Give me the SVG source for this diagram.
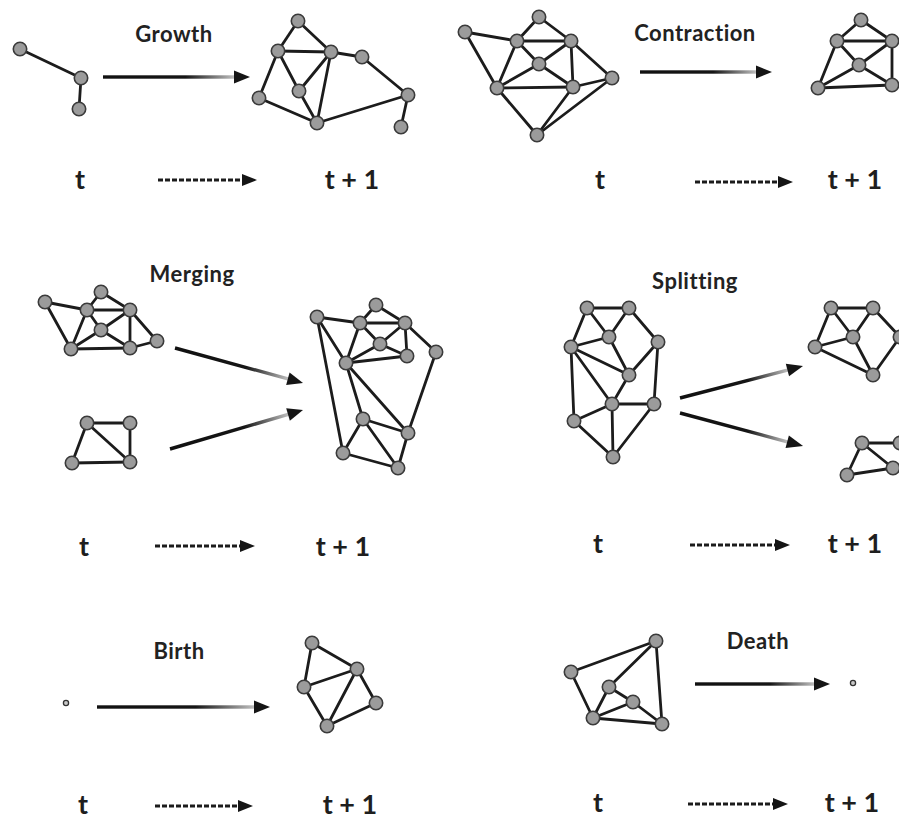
<svg xmlns="http://www.w3.org/2000/svg" width="899" height="819" viewBox="0 0 899 819">
<style>
.e{stroke:#1c1c1c;stroke-width:2.8;stroke-linecap:round}
.n{fill:#9b9b9b;stroke:#3a3a3a;stroke-width:1.6}
.dot{fill:#c8c8c8;stroke:#333;stroke-width:1.3}
.ttl{font-family:Lato,"Open Sans","Liberation Sans",sans-serif;font-weight:700;font-size:22px;letter-spacing:0.5px;fill:#222;text-anchor:middle}
.tl{font-family:Lato,"Open Sans","Liberation Sans",sans-serif;font-weight:700;font-size:27px;fill:#1e1e1e;text-anchor:middle}
.dash{stroke:#1c1c1c;stroke-width:3;stroke-dasharray:5 2}
.head{fill:#151515}
.shaft{fill:url(#fade)}
</style>
<defs>
<linearGradient id="fade" x1="0" y1="0" x2="1" y2="0">
<stop offset="0" stop-color="#111"/>
<stop offset="0.62" stop-color="#151515"/>
<stop offset="1" stop-color="#c4c4c4"/>
</linearGradient>
</defs>
<rect width="899" height="819" fill="#fff"/>

<!-- titles -->
<g id="titles">
<text class="ttl" x="174" y="42">Growth</text>
<text class="ttl" x="695" y="41">Contraction</text>
<text class="ttl" x="192" y="282">Merging</text>
<text class="ttl" x="695" y="289">Splitting</text>
<text class="ttl" x="179" y="659">Birth</text>
<text class="ttl" x="758" y="649">Death</text>
</g>

<!-- time labels -->
<g id="time-labels">
<text class="tl" x="80" y="189">t</text><text class="tl" x="352" y="189">t + 1</text>
<text class="tl" x="600" y="189">t</text><text class="tl" x="855" y="189">t + 1</text>
<text class="tl" x="84" y="556">t</text><text class="tl" x="343" y="556">t + 1</text>
<text class="tl" x="598" y="553">t</text><text class="tl" x="855" y="553">t + 1</text>
<text class="tl" x="83" y="814">t</text><text class="tl" x="350" y="814">t + 1</text>
<text class="tl" x="598" y="812">t</text><text class="tl" x="852" y="812">t + 1</text>
</g>

<!-- connectors -->
<g id="connectors">
<!-- dashed time arrows -->
<g id="time-arrows">
<line class="dash" x1="158" y1="180" x2="243" y2="180"/><polygon class="head" points="257,180 242,174 242,186"/>
<line class="dash" x1="695" y1="182" x2="779" y2="182"/><polygon class="head" points="793,182 778,176 778,188"/>
<line class="dash" x1="155" y1="546" x2="241" y2="546"/><polygon class="head" points="255,546 240,540 240,552"/>
<line class="dash" x1="690" y1="545" x2="776" y2="545"/><polygon class="head" points="790,545 775,539 775,551"/>
<line class="dash" x1="155" y1="806" x2="239" y2="806"/><polygon class="head" points="253,806 238,800 238,812"/>
<line class="dash" x1="688" y1="804" x2="774" y2="804"/><polygon class="head" points="788,804 773,798 773,810"/>
</g>
<!-- transition arrows -->
<g id="transition-arrows">
<g transform="translate(103,77)"><rect class="shaft" x="0" y="-1.7" width="133" height="3.4"/><polygon class="head" points="147,0 131,-6.5 131,6.5"/></g>
<g transform="translate(640,72)"><rect class="shaft" x="0" y="-1.7" width="118" height="3.4"/><polygon class="head" points="132,0 116,-6.5 116,6.5"/></g>
<g transform="translate(175,348) rotate(15.29)"><rect class="shaft" x="0" y="-1.7" width="119" height="3.4"/><polygon class="head" points="132.7,0 117,-6.5 117,6.5"/></g>
<g transform="translate(170,449) rotate(-16.34)"><rect class="shaft" x="0" y="-1.7" width="125" height="3.4"/><polygon class="head" points="138.6,0 123,-6.5 123,6.5"/></g>
<g transform="translate(680,398) rotate(-14.58)"><rect class="shaft" x="0" y="-1.7" width="113" height="3.4"/><polygon class="head" points="127.1,0 111,-6.5 111,6.5"/></g>
<g transform="translate(680,413) rotate(15.02)"><rect class="shaft" x="0" y="-1.7" width="113" height="3.4"/><polygon class="head" points="127.4,0 111,-6.5 111,6.5"/></g>
<g transform="translate(97,707)"><rect class="shaft" x="0" y="-1.7" width="159" height="3.4"/><polygon class="head" points="173,0 157,-6.5 157,6.5"/></g>
<g transform="translate(695,684)"><rect class="shaft" x="0" y="-1.7" width="121" height="3.4"/><polygon class="head" points="135,0 119,-6.5 119,6.5"/></g>
</g>
<!-- graph edges -->
<g id="edges-growth">
<line class="e" x1="20" y1="49" x2="81" y2="78"/><line class="e" x1="81" y1="78" x2="79" y2="109"/>
<line class="e" x1="298" y1="21" x2="278" y2="51"/><line class="e" x1="298" y1="21" x2="331" y2="52"/>
<line class="e" x1="278" y1="51" x2="331" y2="52"/><line class="e" x1="331" y1="52" x2="362" y2="57"/>
<line class="e" x1="362" y1="57" x2="408" y2="95"/><line class="e" x1="408" y1="95" x2="401" y2="127"/>
<line class="e" x1="408" y1="95" x2="317" y2="123"/><line class="e" x1="317" y1="123" x2="259" y2="98"/>
<line class="e" x1="259" y1="98" x2="278" y2="51"/><line class="e" x1="278" y1="51" x2="299" y2="91"/>
<line class="e" x1="299" y1="91" x2="317" y2="123"/><line class="e" x1="299" y1="91" x2="331" y2="52"/>
<line class="e" x1="331" y1="52" x2="317" y2="123"/>
</g>
<g id="edges-contraction">
<line class="e" x1="465" y1="32" x2="517" y2="41"/><line class="e" x1="465" y1="32" x2="497" y2="88"/>
<line class="e" x1="539" y1="17" x2="517" y2="41"/><line class="e" x1="539" y1="17" x2="571" y2="41"/>
<line class="e" x1="517" y1="41" x2="571" y2="41"/><line class="e" x1="517" y1="41" x2="539" y2="64"/>
<line class="e" x1="571" y1="41" x2="539" y2="64"/><line class="e" x1="517" y1="41" x2="497" y2="88"/>
<line class="e" x1="571" y1="41" x2="573" y2="87"/><line class="e" x1="571" y1="41" x2="612" y2="78"/>
<line class="e" x1="539" y1="64" x2="497" y2="88"/><line class="e" x1="539" y1="64" x2="573" y2="87"/>
<line class="e" x1="497" y1="88" x2="573" y2="87"/><line class="e" x1="573" y1="87" x2="612" y2="78"/>
<line class="e" x1="497" y1="88" x2="537" y2="135"/><line class="e" x1="573" y1="87" x2="537" y2="135"/>
<line class="e" x1="537" y1="135" x2="612" y2="78"/>
<line class="e" x1="861" y1="20" x2="837" y2="41"/><line class="e" x1="861" y1="20" x2="892" y2="41"/>
<line class="e" x1="837" y1="41" x2="892" y2="41"/><line class="e" x1="837" y1="41" x2="859" y2="65"/>
<line class="e" x1="892" y1="41" x2="859" y2="65"/><line class="e" x1="837" y1="41" x2="818" y2="88"/>
<line class="e" x1="818" y1="88" x2="859" y2="65"/><line class="e" x1="859" y1="65" x2="892" y2="85"/>
<line class="e" x1="892" y1="41" x2="892" y2="85"/><line class="e" x1="818" y1="88" x2="892" y2="85"/>
</g>
<g id="edges-merging">
<line class="e" x1="45" y1="302" x2="87" y2="310"/><line class="e" x1="45" y1="302" x2="71" y2="349"/>
<line class="e" x1="101" y1="292" x2="87" y2="310"/><line class="e" x1="101" y1="292" x2="130" y2="310"/>
<line class="e" x1="87" y1="310" x2="130" y2="310"/><line class="e" x1="87" y1="310" x2="71" y2="349"/>
<line class="e" x1="87" y1="310" x2="101" y2="330"/><line class="e" x1="101" y1="330" x2="130" y2="348"/>
<line class="e" x1="130" y1="310" x2="101" y2="330"/><line class="e" x1="101" y1="330" x2="71" y2="349"/>
<line class="e" x1="130" y1="310" x2="130" y2="348"/><line class="e" x1="130" y1="310" x2="157" y2="341"/>
<line class="e" x1="71" y1="349" x2="130" y2="348"/><line class="e" x1="130" y1="348" x2="157" y2="341"/>
<line class="e" x1="87" y1="423" x2="130" y2="423"/><line class="e" x1="87" y1="423" x2="72" y2="463"/>
<line class="e" x1="87" y1="423" x2="130" y2="462"/><line class="e" x1="130" y1="423" x2="130" y2="462"/>
<line class="e" x1="72" y1="463" x2="130" y2="462"/>
<line class="e" x1="317" y1="317" x2="360" y2="323"/><line class="e" x1="317" y1="317" x2="346" y2="363"/>
<line class="e" x1="317" y1="317" x2="343" y2="453"/><line class="e" x1="376" y1="305" x2="360" y2="323"/>
<line class="e" x1="376" y1="305" x2="405" y2="323"/><line class="e" x1="360" y1="323" x2="405" y2="323"/>
<line class="e" x1="360" y1="323" x2="380" y2="344"/><line class="e" x1="380" y1="344" x2="405" y2="323"/>
<line class="e" x1="380" y1="344" x2="407" y2="356"/><line class="e" x1="405" y1="323" x2="407" y2="356"/>
<line class="e" x1="405" y1="323" x2="436" y2="352"/><line class="e" x1="360" y1="323" x2="346" y2="363"/>
<line class="e" x1="380" y1="344" x2="346" y2="363"/><line class="e" x1="346" y1="363" x2="407" y2="356"/>
<line class="e" x1="346" y1="363" x2="408" y2="433"/><line class="e" x1="346" y1="363" x2="363" y2="419"/>
<line class="e" x1="363" y1="419" x2="343" y2="453"/><line class="e" x1="363" y1="419" x2="398" y2="468"/>
<line class="e" x1="363" y1="419" x2="408" y2="433"/><line class="e" x1="343" y1="453" x2="398" y2="468"/>
<line class="e" x1="408" y1="433" x2="398" y2="468"/><line class="e" x1="436" y1="352" x2="408" y2="433"/>
</g>
<g id="edges-splitting">
<line class="e" x1="587" y1="308" x2="629" y2="308"/><line class="e" x1="587" y1="308" x2="571" y2="347"/>
<line class="e" x1="587" y1="308" x2="609" y2="337"/><line class="e" x1="629" y1="308" x2="609" y2="337"/>
<line class="e" x1="629" y1="308" x2="658" y2="342"/><line class="e" x1="609" y1="337" x2="571" y2="347"/>
<line class="e" x1="609" y1="337" x2="629" y2="375"/><line class="e" x1="571" y1="347" x2="629" y2="375"/>
<line class="e" x1="571" y1="347" x2="612" y2="404"/><line class="e" x1="571" y1="347" x2="574" y2="421"/>
<line class="e" x1="658" y1="342" x2="629" y2="375"/><line class="e" x1="658" y1="342" x2="654" y2="404"/>
<line class="e" x1="629" y1="375" x2="612" y2="404"/><line class="e" x1="612" y1="404" x2="654" y2="404"/>
<line class="e" x1="612" y1="404" x2="574" y2="421"/><line class="e" x1="612" y1="404" x2="613" y2="457"/>
<line class="e" x1="574" y1="421" x2="613" y2="457"/><line class="e" x1="654" y1="404" x2="613" y2="457"/>
<line class="e" x1="831" y1="308" x2="873" y2="308"/><line class="e" x1="831" y1="308" x2="815" y2="347"/>
<line class="e" x1="831" y1="308" x2="853" y2="337"/><line class="e" x1="873" y1="308" x2="853" y2="337"/>
<line class="e" x1="873" y1="308" x2="900" y2="337"/><line class="e" x1="853" y1="337" x2="815" y2="347"/>
<line class="e" x1="853" y1="337" x2="873" y2="375"/><line class="e" x1="815" y1="347" x2="873" y2="375"/>
<line class="e" x1="873" y1="375" x2="900" y2="337"/>
<line class="e" x1="862" y1="443" x2="900" y2="443"/><line class="e" x1="862" y1="443" x2="847" y2="475"/>
<line class="e" x1="862" y1="443" x2="893" y2="468"/><line class="e" x1="847" y1="475" x2="893" y2="468"/>
</g>
<g id="edges-birth">
<line class="e" x1="312" y1="643" x2="357" y2="669"/><line class="e" x1="312" y1="643" x2="304" y2="687"/>
<line class="e" x1="304" y1="687" x2="357" y2="669"/><line class="e" x1="357" y1="669" x2="327" y2="726"/>
<line class="e" x1="357" y1="669" x2="376" y2="703"/><line class="e" x1="304" y1="687" x2="327" y2="726"/>
<line class="e" x1="376" y1="703" x2="327" y2="726"/>
</g>
<g id="edges-death">
<line class="e" x1="656" y1="641" x2="571" y2="672"/><line class="e" x1="656" y1="641" x2="609" y2="687"/>
<line class="e" x1="656" y1="641" x2="662" y2="724"/><line class="e" x1="571" y1="672" x2="593" y2="718"/>
<line class="e" x1="609" y1="687" x2="593" y2="718"/><line class="e" x1="609" y1="687" x2="633" y2="702"/>
<line class="e" x1="633" y1="702" x2="662" y2="724"/><line class="e" x1="633" y1="702" x2="593" y2="718"/>
<line class="e" x1="593" y1="718" x2="662" y2="724"/>
</g>
</g>

<!-- nodes -->
<g id="nodes-growth">
<g id="g0-1"><circle class="n" cx="20" cy="49" r="6.7"/></g>
<g id="g0-2"><circle class="n" cx="81" cy="78" r="6.7"/></g>
<g id="g0-3"><circle class="n" cx="79" cy="109" r="6.7"/></g>
<g id="g1-a"><circle class="n" cx="298" cy="21" r="6.7"/></g>
<g id="g1-b"><circle class="n" cx="278" cy="51" r="6.7"/></g>
<g id="g1-c"><circle class="n" cx="331" cy="52" r="6.7"/></g>
<g id="g1-d"><circle class="n" cx="362" cy="57" r="6.7"/></g>
<g id="g1-e"><circle class="n" cx="259" cy="98" r="6.7"/></g>
<g id="g1-f"><circle class="n" cx="299" cy="91" r="6.7"/></g>
<g id="g1-g"><circle class="n" cx="317" cy="123" r="6.7"/></g>
<g id="g1-h"><circle class="n" cx="408" cy="95" r="6.7"/></g>
<g id="g1-i"><circle class="n" cx="401" cy="127" r="6.7"/></g>
</g>
<g id="nodes-contraction">
<g id="c0-a"><circle class="n" cx="465" cy="32" r="6.7"/></g>
<g id="c0-b"><circle class="n" cx="539" cy="17" r="6.7"/></g>
<g id="c0-c"><circle class="n" cx="517" cy="41" r="6.7"/></g>
<g id="c0-d"><circle class="n" cx="571" cy="41" r="6.7"/></g>
<g id="c0-e"><circle class="n" cx="539" cy="64" r="6.7"/></g>
<g id="c0-f"><circle class="n" cx="612" cy="78" r="6.7"/></g>
<g id="c0-g"><circle class="n" cx="497" cy="88" r="6.7"/></g>
<g id="c0-h"><circle class="n" cx="573" cy="87" r="6.7"/></g>
<g id="c0-i"><circle class="n" cx="537" cy="135" r="6.7"/></g>
<g id="c1-p"><circle class="n" cx="861" cy="20" r="6.7"/></g>
<g id="c1-q"><circle class="n" cx="837" cy="41" r="6.7"/></g>
<g id="c1-r"><circle class="n" cx="892" cy="41" r="6.7"/></g>
<g id="c1-s"><circle class="n" cx="859" cy="65" r="6.7"/></g>
<g id="c1-u"><circle class="n" cx="818" cy="88" r="6.7"/></g>
<g id="c1-v"><circle class="n" cx="892" cy="85" r="6.7"/></g>
</g>
<g id="nodes-merging">
<g id="m0-1"><circle class="n" cx="45" cy="302" r="6.7"/></g>
<g id="m0-2"><circle class="n" cx="101" cy="292" r="6.7"/></g>
<g id="m0-3"><circle class="n" cx="87" cy="310" r="6.7"/></g>
<g id="m0-4"><circle class="n" cx="130" cy="310" r="6.7"/></g>
<g id="m0-5"><circle class="n" cx="101" cy="330" r="6.7"/></g>
<g id="m0-6"><circle class="n" cx="71" cy="349" r="6.7"/></g>
<g id="m0-7"><circle class="n" cx="130" cy="348" r="6.7"/></g>
<g id="m0-8"><circle class="n" cx="157" cy="341" r="6.7"/></g>
<g id="m0b-1"><circle class="n" cx="87" cy="423" r="6.7"/></g>
<g id="m0b-2"><circle class="n" cx="130" cy="423" r="6.7"/></g>
<g id="m0b-3"><circle class="n" cx="72" cy="463" r="6.7"/></g>
<g id="m0b-4"><circle class="n" cx="130" cy="462" r="6.7"/></g>
<g id="m1-1"><circle class="n" cx="317" cy="317" r="6.7"/></g>
<g id="m1-2"><circle class="n" cx="376" cy="305" r="6.7"/></g>
<g id="m1-3"><circle class="n" cx="360" cy="323" r="6.7"/></g>
<g id="m1-4"><circle class="n" cx="405" cy="323" r="6.7"/></g>
<g id="m1-5"><circle class="n" cx="380" cy="344" r="6.7"/></g>
<g id="m1-6"><circle class="n" cx="407" cy="356" r="6.7"/></g>
<g id="m1-7"><circle class="n" cx="436" cy="352" r="6.7"/></g>
<g id="m1-8"><circle class="n" cx="346" cy="363" r="6.7"/></g>
<g id="m1-9"><circle class="n" cx="363" cy="419" r="6.7"/></g>
<g id="m1-10"><circle class="n" cx="408" cy="433" r="6.7"/></g>
<g id="m1-11"><circle class="n" cx="343" cy="453" r="6.7"/></g>
<g id="m1-12"><circle class="n" cx="398" cy="468" r="6.7"/></g>
</g>
<g id="nodes-splitting">
<g id="s0-1"><circle class="n" cx="587" cy="308" r="6.7"/></g>
<g id="s0-2"><circle class="n" cx="629" cy="308" r="6.7"/></g>
<g id="s0-3"><circle class="n" cx="609" cy="337" r="6.7"/></g>
<g id="s0-4"><circle class="n" cx="571" cy="347" r="6.7"/></g>
<g id="s0-5"><circle class="n" cx="658" cy="342" r="6.7"/></g>
<g id="s0-6"><circle class="n" cx="629" cy="375" r="6.7"/></g>
<g id="s0-7"><circle class="n" cx="612" cy="404" r="6.7"/></g>
<g id="s0-8"><circle class="n" cx="654" cy="404" r="6.7"/></g>
<g id="s0-9"><circle class="n" cx="574" cy="421" r="6.7"/></g>
<g id="s0-10"><circle class="n" cx="613" cy="457" r="6.7"/></g>
<g id="s1-1"><circle class="n" cx="831" cy="308" r="6.7"/></g>
<g id="s1-2"><circle class="n" cx="873" cy="308" r="6.7"/></g>
<g id="s1-3"><circle class="n" cx="853" cy="337" r="6.7"/></g>
<g id="s1-4"><circle class="n" cx="815" cy="347" r="6.7"/></g>
<g id="s1-5"><circle class="n" cx="900" cy="337" r="6.7"/></g>
<g id="s1-6"><circle class="n" cx="873" cy="375" r="6.7"/></g>
<g id="s2-1"><circle class="n" cx="862" cy="443" r="6.7"/></g>
<g id="s2-2"><circle class="n" cx="900" cy="443" r="6.7"/></g>
<g id="s2-3"><circle class="n" cx="847" cy="475" r="6.7"/></g>
<g id="s2-4"><circle class="n" cx="893" cy="468" r="6.7"/></g>
</g>
<g id="nodes-birth">
<g id="b0-seed"><circle class="dot" cx="66" cy="703" r="2.6"/></g>
<g id="b1-1"><circle class="n" cx="312" cy="643" r="6.7"/></g>
<g id="b1-2"><circle class="n" cx="357" cy="669" r="6.7"/></g>
<g id="b1-3"><circle class="n" cx="304" cy="687" r="6.7"/></g>
<g id="b1-4"><circle class="n" cx="376" cy="703" r="6.7"/></g>
<g id="b1-5"><circle class="n" cx="327" cy="726" r="6.7"/></g>
</g>
<g id="nodes-death">
<g id="d0-1"><circle class="n" cx="656" cy="641" r="6.7"/></g>
<g id="d0-2"><circle class="n" cx="571" cy="672" r="6.7"/></g>
<g id="d0-3"><circle class="n" cx="609" cy="687" r="6.7"/></g>
<g id="d0-4"><circle class="n" cx="633" cy="702" r="6.7"/></g>
<g id="d0-5"><circle class="n" cx="593" cy="718" r="6.7"/></g>
<g id="d0-6"><circle class="n" cx="662" cy="724" r="6.7"/></g>
<g id="d1-remnant"><circle class="dot" cx="853" cy="683" r="2.6"/></g>
</g>
</svg>
